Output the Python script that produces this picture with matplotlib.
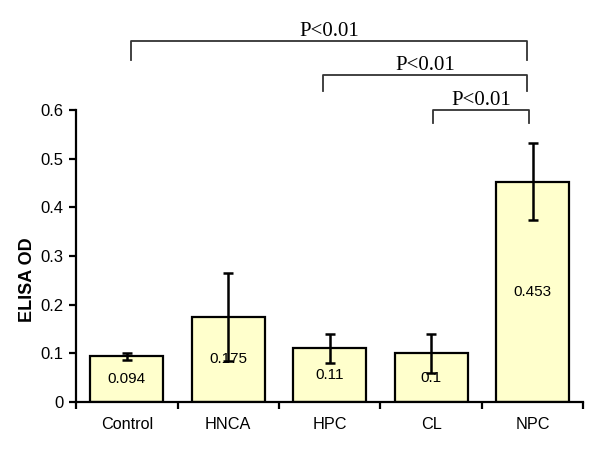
import matplotlib
matplotlib.use("Agg")
import matplotlib.pyplot as plt
import numpy as np

groups = ["Control", "HNCA", "HPC", "CL", "NPC"]
od_mean = [0.094, 0.175, 0.11, 0.1, 0.453]
od_err = [0.007, 0.09, 0.03, 0.04, 0.08]
value_labels = ["0.094", "0.175", "0.11", "0.1", "0.453"]

# significance brackets: (left x, right x, y of bar, y of legs, label)
brackets = [(0.04, 3.95, 0.742, 0.702, "P<0.01"),
            (1.93, 3.95, 0.672, 0.638, "P<0.01"),
            (3.02, 3.97, 0.600, 0.573, "P<0.01")]

plt.rcParams["font.family"] = ["Liberation Sans", "DejaVu Sans"]

fig = plt.figure(figsize=(6, 4.53), dpi=100)
ax = fig.add_axes([0.127, 0.1126, 0.845, 0.6446])

x = np.arange(len(groups))
ax.bar(x, od_mean, width=0.72, color="#FFFFCC", edgecolor="black", linewidth=1.6, zorder=2)
ax.errorbar(x, od_mean, yerr=od_err, fmt="none", ecolor="black", elinewidth=1.8,
            capsize=3.5, capthick=1.8, zorder=3)

for xi, v, lab in zip(x, od_mean, value_labels):
    ax.text(xi, v / 2, lab, ha="center", va="center", fontsize=11, zorder=4)

ax.set_xlim(-0.5, len(groups) - 0.5)
ax.set_ylim(0, 0.6)
ax.set_yticks(np.arange(0, 0.61, 0.1))
ax.set_yticklabels(["0", "0.1", "0.2", "0.3", "0.4", "0.5", "0.6"], fontsize=12)
ax.set_xticks(x)
ax.set_xticklabels(groups, fontsize=11.7)
ax.set_xticks(np.arange(-0.5, len(groups), 1.0), minor=True)
ax.tick_params(axis="x", which="major", length=0, pad=11)
ax.tick_params(axis="x", which="minor", length=5, width=1.6, direction="out")
ax.tick_params(axis="y", length=5, width=1.6, direction="out", pad=4)
ax.set_ylabel("ELISA OD", fontsize=13, fontweight="bold", va="center")
ax.yaxis.set_label_coords(-0.097, 0.42)

for side in ["top", "right"]:
    ax.spines[side].set_visible(False)
for side in ["left", "bottom"]:
    ax.spines[side].set_linewidth(1.6)

for x0, x1, yb, yl, lab in brackets:
    ax.plot([x0, x0, x1, x1], [yl, yb, yb, yl], color="#333333", linewidth=1.3,
            clip_on=False)
    ax.text((x0 + x1) / 2, yb, lab, ha="center", va="bottom", fontsize=15,
            family=["Liberation Serif"], clip_on=False)

fig.savefig("out.png", dpi=100)
